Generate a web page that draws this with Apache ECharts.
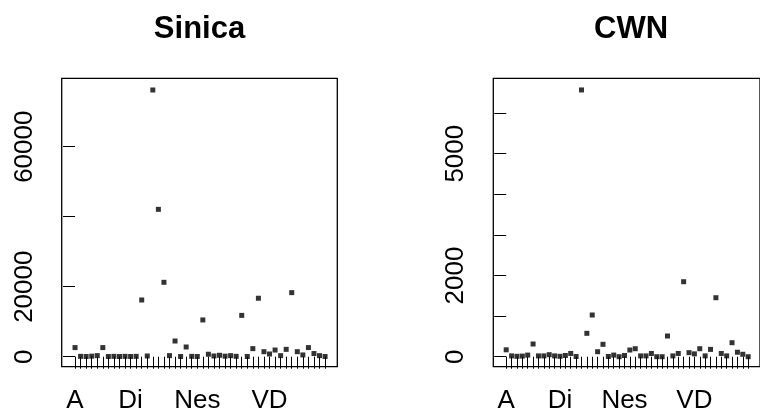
<!DOCTYPE html>
<html>
<head>
<meta charset="utf-8">
<script src="https://cdn.jsdelivr.net/npm/echarts@6.0.0/dist/echarts.min.js"></script>
<style>
  html, body { margin: 0; padding: 0; background: #fff; }
  #main { width: 760px; height: 414px; }
</style>
</head>
<body>
<div id="main"></div>
<script>
// POS tags on the x axis
const categories = ['A', 'Caa', 'Cab', 'Cba', 'Cbb', 'D', 'Da', 'DE', 'Dfa', 'Dfb',
  'Di', 'Dk', 'DM', 'I', 'Na', 'Nb', 'Nc', 'Ncd', 'Nd', 'Nep',
  'Neqa', 'Neqb', 'Nes', 'Neu', 'Nf', 'Ng', 'Nh', 'Nv', 'P', 'SHI',
  'T', 'VA', 'VB', 'VC', 'VCL', 'VD', 'VE', 'VF', 'VG', 'VH',
  'VHC', 'VI', 'VJ', 'VK', 'VL', 'V_2'];
const labeledCats = ['A', 'Di', 'Nes', 'VD'];

const sinicaValues = [2600, 100, 50, 150, 300, 2600, 50, 100, 50, 100,
  50, 100, 16200, 200, 76200, 42100, 21250, 300, 4480, 50,
  2770, 100, 50, 10500, 700, 200, 400, 150, 300, 100,
  11800, 50, 2300, 16700, 1430, 770, 1900, 300, 2100, 18300,
  1430, 500, 2600, 900, 300, 50];

const cwnValues = [170, 20, 10, 15, 40, 313, 20, 20, 50, 20,
  10, 30, 80, 5, 6570, 576, 1027, 123, 305, 5,
  40, 0, 30, 165, 197, 20, 20, 80, 0, 0,
  510, 20, 80, 1847, 100, 70, 197, 20, 180, 1453,
  80, 20, 345, 110, 60, 0];

const sinicaTicks = [0, 20000, 40000, 60000];
const sinicaTickLabels = [0, 20000, 60000];
const cwnTicks = [0, 1000, 2000, 3000, 4000, 5000, 6000];
const cwnTickLabels = [0, 2000, 5000];

const FONT = 'Liberation Sans, Arial, Helvetica, sans-serif';
const chart = echarts.init(document.getElementById('main'));

const panels = [
  { title: 'Sinica', values: sinicaValues, ticks: sinicaTicks, labels: sinicaTickLabels, min: -2860, max: 79540, left: 61.7 },
  { title: 'CWN', values: cwnValues, ticks: cwnTicks, labels: cwnTickLabels, min: -246, max: 6857, left: 493.3 }
];

const catIdx = categories.map((c, i) => i);
const labelIdx = labeledCats.map(c => categories.indexOf(c));

const option = {
  animation: false,
  backgroundColor: '#fff',
  graphic: panels.map(p => ({
    type: 'text',
    x: p.left + 137.8,
    y: 29,
    style: {
      text: p.title,
      fontFamily: FONT,
      fontWeight: 'bold',
      fontSize: 31,
      align: 'center',
      verticalAlign: 'middle',
      fill: '#000'
    }
  })),
  grid: panels.map(p => ({
    left: p.left,
    top: 78.3,
    width: 275.6,
    height: 288.4,
    show: true,
    borderColor: '#000',
    borderWidth: 1.3,
    backgroundColor: 'transparent'
  })),
  xAxis: panels.map((p, i) => ({
    type: 'value',
    gridIndex: i,
    min: -2.4,
    max: 47.2,
    axisLine: { show: false },
    splitLine: { show: false },
    axisTick: { show: true, length: 12, customValues: catIdx, lineStyle: { color: '#000', width: 1 } },
    axisLabel: {
      customValues: labelIdx,
      formatter: v => categories[v],
      margin: 21,
      fontFamily: FONT,
      fontSize: 26,
      color: '#000'
    }
  })),
  yAxis: panels.map((p, i) => ({
    type: 'value',
    gridIndex: i,
    min: p.min,
    max: p.max,
    axisLine: { show: false },
    splitLine: { show: false },
    axisTick: { show: true, length: 12, customValues: p.ticks, lineStyle: { color: '#000', width: 1 } },
    axisLabel: {
      customValues: p.labels,
      formatter: v => String(v),
      rotate: 90,
      margin: 24,
      fontFamily: FONT,
      fontSize: 26,
      color: '#000'
    }
  })),
  series: panels.map((p, i) => ({
    type: 'scatter',
    xAxisIndex: i,
    yAxisIndex: i,
    symbol: 'rect',
    symbolSize: 5,
    itemStyle: { color: '#000' },
    data: p.values.map((v, k) => [k, v])
  }))
};

chart.setOption(option);
</script>
</body>
</html>
